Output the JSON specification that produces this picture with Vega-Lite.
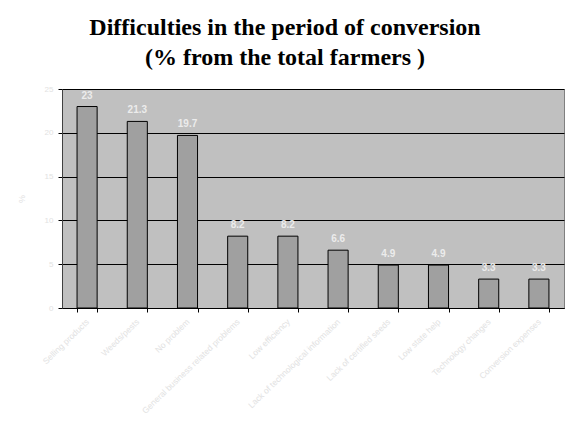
{
  "$schema": "https://vega.github.io/schema/vega-lite/v6.json",
  "width": 502,
  "height": 219,
  "autosize": {"type": "none"},
  "padding": {"left": 62, "top": 89, "right": 6, "bottom": 119},
  "background": "white",
  "title": {
    "text": ["Difficulties in the period of conversion", "(% from the total farmers )"],
    "font": "Liberation Serif",
    "fontSize": 24,
    "fontWeight": "bold",
    "color": "black",
    "lineHeight": 30,
    "anchor": "middle",
    "dx": -28,
    "offset": 15
  },
  "data": {
    "values": [
      {"cat": "Selling products", "v": 23},
      {"cat": "Weeds/pests", "v": 21.3},
      {"cat": "No problem", "v": 19.7},
      {"cat": "General business related problems", "v": 8.2},
      {"cat": "Low efficiency", "v": 8.2},
      {"cat": "Lack of technological information", "v": 6.6},
      {"cat": "Lack of certified seeds", "v": 4.9},
      {"cat": "Low state help", "v": 4.9},
      {"cat": "Technology changes", "v": 3.3},
      {"cat": "Conversion expenses", "v": 3.3}
    ]
  },
  "config": {
    "view": {"fill": "#c0c0c0", "stroke": "#808080", "strokeWidth": 1},
    "font": "Liberation Sans"
  },
  "encoding": {
    "x": {
      "field": "cat",
      "type": "nominal",
      "sort": null,
      "scale": {"paddingInner": 0.6, "paddingOuter": 0.3},
      "axis": {
        "title": null,
        "labelAngle": -44,
        "labelAlign": "right",
        "labelBaseline": "middle",
        "labelColor": "#e2e2e2",
        "labelFontSize": 8.5,
        "labelPadding": 8,
        "tickBand": "extent",
        "tickColor": "black",
        "tickSize": 4,
        "domainColor": "black",
        "labelLimit": 300
      }
    },
    "y": {
      "field": "v",
      "type": "quantitative",
      "scale": {"domain": [0, 25]},
      "axis": {
        "title": "%",
        "titleColor": "#e2e2e2",
        "titleFontSize": 9,
        "titleFontWeight": "normal",
        "titleAngle": -90,
        "titlePadding": 18,
        "values": [0, 5, 10, 15, 20, 25],
        "labelColor": "#e2e2e2",
        "labelFontSize": 8,
        "labelPadding": 5,
        "tickColor": "black",
        "tickSize": 4,
        "domainColor": "#404040",
        "gridColor": "black",
        "gridWidth": 1
      }
    }
  },
  "layer": [
    {
      "mark": {"type": "bar", "fill": "#a0a0a0", "stroke": "black", "strokeWidth": 1}
    },
    {
      "mark": {"type": "text", "dy": -11, "color": "#ececec", "fontSize": 10, "fontWeight": "bold"},
      "encoding": {"text": {"field": "v", "type": "quantitative"}}
    }
  ]
}
